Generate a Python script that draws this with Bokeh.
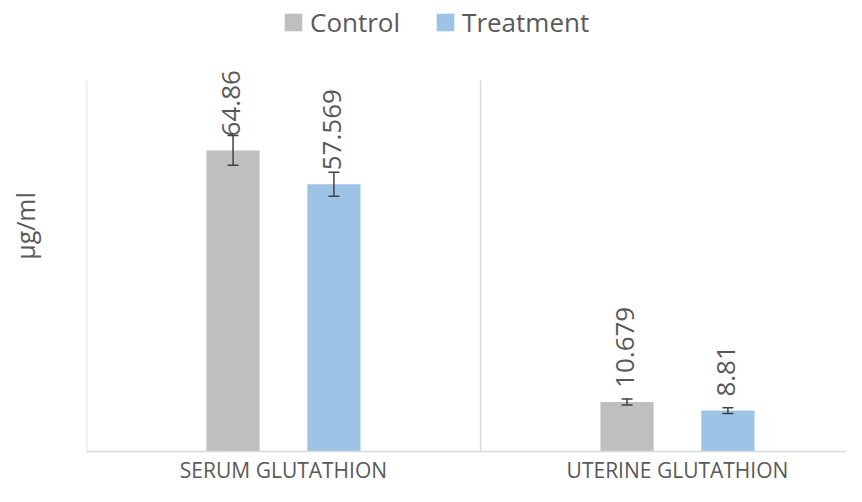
import math
from bokeh.plotting import figure
from bokeh.models import (ColumnDataSource, Range1d, FixedTicker, Legend, LegendItem,
                          Whisker, TeeHead, LabelSet)
from bokeh.core.properties import value
from bokeh.embed import file_html
from bokeh.resources import INLINE

categories = ["SERUM GLUTATHION", "UTERINE GLUTATHION"]
series = ["Control", "Treatment"]
control = [64.86, 10.679]
treatment = [57.569, 8.81]
control_err = [3.2, 0.65]
treatment_err = [2.6, 0.6]
control_labels = ["64.86", "10.679"]
treatment_labels = ["57.569", "8.81"]
y_max = 80  # top of the value axis

colors = ["#bfbfbf", "#9dc3e6"]
txt = "#595959"
line_col = "#d9d9d9"
err_col = "#404040"
FONT = "Open Sans"
offset = 0.128
bar_w = 0.135

centers = [i + 0.5 for i in range(len(categories))]
boundaries = list(range(len(categories)))

p = figure(width=846, height=486, output_backend="svg", toolbar_location=None,
           x_range=Range1d(0, 1.929), y_range=Range1d(0, y_max * 453 / 373),
           min_border_left=86, min_border_right=0, min_border_top=0, min_border_bottom=33)
p.outline_line_color = None
p.background_fill_color = "white"
p.border_fill_color = "white"

# vertical axis line and category separator, up to the axis top
p.segment(x0=boundaries, y0=[0] * len(boundaries), x1=boundaries, y1=[y_max] * len(boundaries),
          line_color=line_col, line_width=1.5)

renderers = []
for k, (vals, errs, labs) in enumerate([(control, control_err, control_labels),
                                         (treatment, treatment_err, treatment_labels)]):
    dx = -offset if k == 0 else offset
    xs = [c + dx for c in centers]
    src = ColumnDataSource(dict(x=xs, top=vals, upper=[v + e for v, e in zip(vals, errs)],
                                lower=[v - e for v, e in zip(vals, errs)], lab=labs))
    r = p.vbar(x="x", top="top", width=bar_w, bottom=0, source=src,
               fill_color=colors[k], line_color=None)
    renderers.append(r)
    w = Whisker(base="x", upper="upper", lower="lower", source=src, level="annotation",
                line_color=err_col, line_width=1.5,
                upper_head=TeeHead(size=11, line_color=err_col, line_width=1.5),
                lower_head=TeeHead(size=11, line_color=err_col, line_width=1.5))
    p.add_layout(w)
    ls = LabelSet(x="x", y="top", text="lab", source=src, angle=math.pi / 2,
                  text_align="left", text_baseline="middle", y_offset=14, x_offset=-2,
                  text_font=value(FONT), text_font_size=value("26px"), text_color=value(txt))
    p.add_layout(ls)

# axes
p.yaxis.ticker = FixedTicker(ticks=[])
p.yaxis.axis_line_color = None
p.yaxis.major_tick_line_color = None
p.yaxis.minor_tick_line_color = None
p.yaxis.major_label_text_font_size = "0px"
p.yaxis.axis_label = "µg/ml"
p.yaxis.axis_label_text_font = FONT
p.yaxis.axis_label_text_font_size = "25px"
p.yaxis.axis_label_text_font_style = "normal"
p.yaxis.axis_label_text_color = txt
p.yaxis.axis_label_standoff = 45

p.xaxis.ticker = FixedTicker(ticks=centers)
p.xaxis.major_label_overrides = {c: cat for c, cat in zip(centers, categories)}
p.xaxis.axis_line_color = line_col
p.xaxis.axis_line_width = 1.5
p.xaxis.major_tick_line_color = None
p.xaxis.minor_tick_line_color = None
p.xaxis.major_tick_out = 0
p.xaxis.major_tick_in = 0
p.xaxis.minor_tick_out = 0
p.xaxis.major_label_text_font = FONT
p.xaxis.major_label_text_font_size = "21px"
p.xaxis.major_label_text_color = txt
p.xaxis.major_label_standoff = 4

p.ygrid.grid_line_color = None
p.xgrid.grid_line_color = None

legend = Legend(items=[LegendItem(label=s, renderers=[r]) for s, r in zip(series, renderers)],
                orientation="horizontal", location=(196, 411),
                glyph_width=22, glyph_height=22, label_standoff=6, spacing=34,
                padding=0, margin=0, border_line_color=None, background_fill_alpha=0,
                label_text_font=FONT, label_text_font_size="26px", label_text_color=txt)
p.add_layout(legend, "center")

open("out.html", "w").write(file_html(p, INLINE))
